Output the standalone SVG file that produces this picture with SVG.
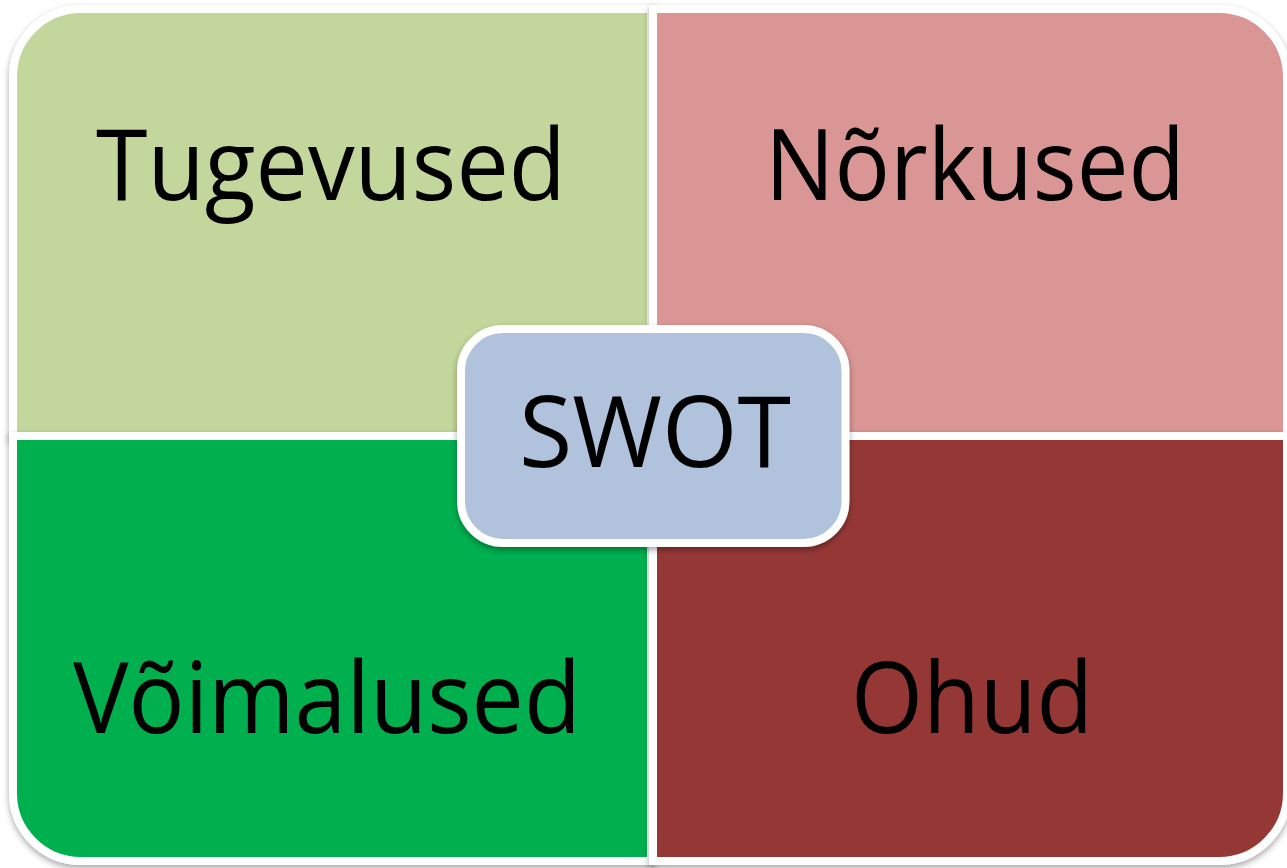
<svg xmlns="http://www.w3.org/2000/svg" width="1287" height="868" viewBox="0 0 1287 868">
  <defs>
    <filter id="shadow" x="-10%" y="-10%" width="120%" height="120%">
      <feDropShadow dx="0" dy="3" stdDeviation="3" flood-color="#000" flood-opacity="0.35"/>
    </filter>
    <style>
      .quad { stroke: #ffffff; stroke-width: 8; filter: url(#shadow); }
      .label { font-family: "Open Sans", "Noto Sans", "Liberation Sans", sans-serif; font-size: 98px; fill: #000000; text-anchor: middle; }
    </style>
  </defs>
  <rect width="1287" height="868" fill="#ffffff"/>

  <!-- Strengths: top-left quadrant, rounded outer corner -->
  <g id="strengths">
    <path class="quad" fill="#C3D69B" d="M13,77 A68,68 0 0 1 81,9 L651,9 L651,436 L13,436 Z"/>
    <text class="label" x="331" y="200" textLength="470" lengthAdjust="spacingAndGlyphs">Tugevused</text>
  </g>

  <!-- Weaknesses: top-right quadrant -->
  <g id="weaknesses">
    <path class="quad" fill="#D99694" d="M653,9 L1219,9 A68,68 0 0 1 1287,77 L1287,436 L653,436 Z"/>
    <text class="label" x="975" y="200" textLength="420" lengthAdjust="spacingAndGlyphs">Nõrkused</text>
  </g>

  <!-- Opportunities: bottom-left quadrant -->
  <g id="opportunities">
    <path class="quad" fill="#00B050" d="M13,436 L651,436 L651,861 L81,861 A68,68 0 0 1 13,793 Z"/>
    <text class="label" x="327" y="733" textLength="508" lengthAdjust="spacingAndGlyphs">Võimalused</text>
  </g>

  <!-- Threats: bottom-right quadrant -->
  <g id="threats">
    <path class="quad" fill="#953735" d="M653,436 L1287,436 L1287,793 A68,68 0 0 1 1219,861 L653,861 Z"/>
    <text class="label" x="972" y="733" textLength="242" lengthAdjust="spacingAndGlyphs">Ohud</text>
  </g>

  <!-- Central title box -->
  <g id="swot">
    <rect class="quad" x="461" y="329" width="384.5" height="214" rx="42" ry="42" fill="#B1C2DD"/>
    <text class="label" x="655" y="467" textLength="272" lengthAdjust="spacingAndGlyphs">SWOT</text>
  </g>

  <!-- no connectors in this diagram -->
  <g id="connectors"/>
</svg>
